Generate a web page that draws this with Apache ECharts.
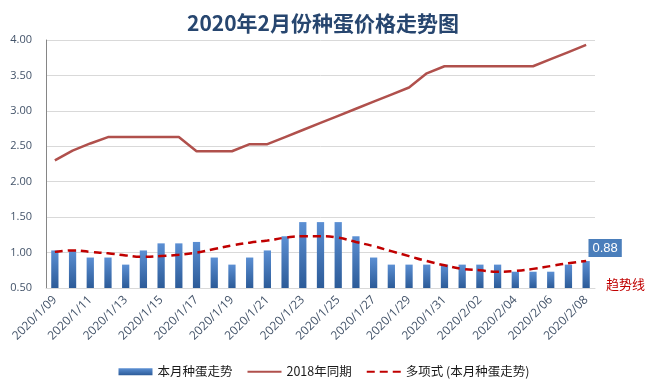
<!DOCTYPE html>
<html>
<head>
<meta charset="utf-8">
<script src="https://cdn.jsdelivr.net/npm/echarts@6/dist/echarts.min.js"></script>
<style>html,body{margin:0;padding:0;background:#fff}#c{width:648px;height:391px}</style>
</head>
<body>
<div id="c"></div>
<script>
var categories = ['2020/1/09','2020/1/10','2020/1/11','2020/1/12','2020/1/13','2020/1/14','2020/1/15','2020/1/16','2020/1/17','2020/1/18','2020/1/19','2020/1/20','2020/1/21','2020/1/22','2020/1/23','2020/1/24','2020/1/25','2020/1/26','2020/1/27','2020/1/28','2020/1/29','2020/1/30','2020/1/31','2020/2/01','2020/2/02','2020/2/03','2020/2/04','2020/2/05','2020/2/06','2020/2/07','2020/2/08'];
var thisMonth = [1.03,1.03,0.93,0.93,0.83,1.03,1.13,1.13,1.15,0.93,0.83,0.93,1.03,1.23,1.43,1.43,1.43,1.23,0.93,0.83,0.83,0.83,0.83,0.83,0.83,0.83,0.73,0.73,0.73,0.83,0.88];
var sameTime2018 = [2.3,2.44,2.54,2.63,2.63,2.63,2.63,2.63,2.43,2.43,2.43,2.53,2.53,2.63,2.73,2.83,2.93,3.03,3.13,3.23,3.33,3.53,3.63,3.63,3.63,3.63,3.63,3.63,3.73,3.83,3.93];
var trend = [1.01,1.03,1.01,0.99,0.96,0.94,0.95,0.97,1.0,1.05,1.1,1.14,1.17,1.21,1.23,1.23,1.21,1.15,1.09,1.02,0.95,0.88,0.82,0.77,0.75,0.73,0.74,0.77,0.81,0.85,0.88];
var yTicks = {min:0.5, max:4.0, interval:0.5};

var barData = thisMonth.map(function(v,i){
  if(i === thisMonth.length-1){
    return {value:v, label:{show:true, position:'top', distance:4, offset:[19,0], formatter:function(p){return p.value.toFixed(2);}, color:'#fff', fontSize:13, fontFamily:'Liberation Sans, Arial', backgroundColor:'#4a7ebb', padding:[3,4,2,4]}};
  }
  return v;
});

var chart = echarts.init(document.getElementById('c'), null, {renderer:'canvas'});
chart.setOption({
  animation:false,
  backgroundColor:'#fff',
  title:{text:'2020年2月份种蛋价格走势图', left:318, textAlign:'center', top:8,
    textStyle:{fontSize:21, fontWeight:'bold', color:'#27466f', fontFamily:'"Noto Sans CJK SC", sans-serif'}},
  grid:{left:46, right:53, top:40, bottom:103, containLabel:false},
  legend:{bottom:8, left:'center', itemWidth:34, itemHeight:7, itemGap:14,
    textStyle:{fontSize:12.5, color:'#1a1a1a', fontFamily:'"Noto Sans CJK SC", sans-serif'},
    data:[{name:'本月种蛋走势', icon:'rect'},
          {name:'2018年同期', itemStyle:{opacity:0}},
          {name:'多项式 (本月种蛋走势)', itemStyle:{opacity:0}}]},
  xAxis:{type:'category', data:categories, boundaryGap:true,
    axisLine:{show:true, lineStyle:{color:'#d9d9d9'}}, axisTick:{show:false},
    axisLabel:{interval:1, rotate:45, fontSize:12, color:'#44546a', margin:10, fontFamily:'"Open Sans", sans-serif'}},
  yAxis:{type:'value', min:yTicks.min, max:yTicks.max, interval:yTicks.interval,
    axisLine:{show:true, lineStyle:{color:'#868686'}}, axisTick:{show:false},
    splitLine:{lineStyle:{color:'#d9d9d9'}},
    axisLabel:{formatter:function(v){return v.toFixed(2);}, fontSize:11, color:'#44546a', margin:14, fontFamily:'"Open Sans", sans-serif'}},
  series:[
    {name:'本月种蛋走势', type:'bar', data:barData, barWidth:'41%',
      itemStyle:{color:new echarts.graphic.LinearGradient(0,0,0,1,[{offset:0,color:'#5b8fd3'},{offset:1,color:'#2c5b98'}])}},
    {name:'2018年同期', type:'line', data:sameTime2018, symbol:'none', lineStyle:{color:'#b0504c', width:2.5}, itemStyle:{color:'#b0504c'}},
    {name:'多项式 (本月种蛋走势)', type:'line', data:trend, smooth:true, symbol:'none',
      lineStyle:{color:'#c00000', width:2.5, type:[8,5]}, itemStyle:{color:'#c00000'}}
  ],
  graphic:[{type:'text', left:606, top:278, style:{text:'趋势线', fill:'#c00000', fontSize:13, fontFamily:'"Noto Sans CJK SC", sans-serif'}}]
});
</script>
</body>
</html>
